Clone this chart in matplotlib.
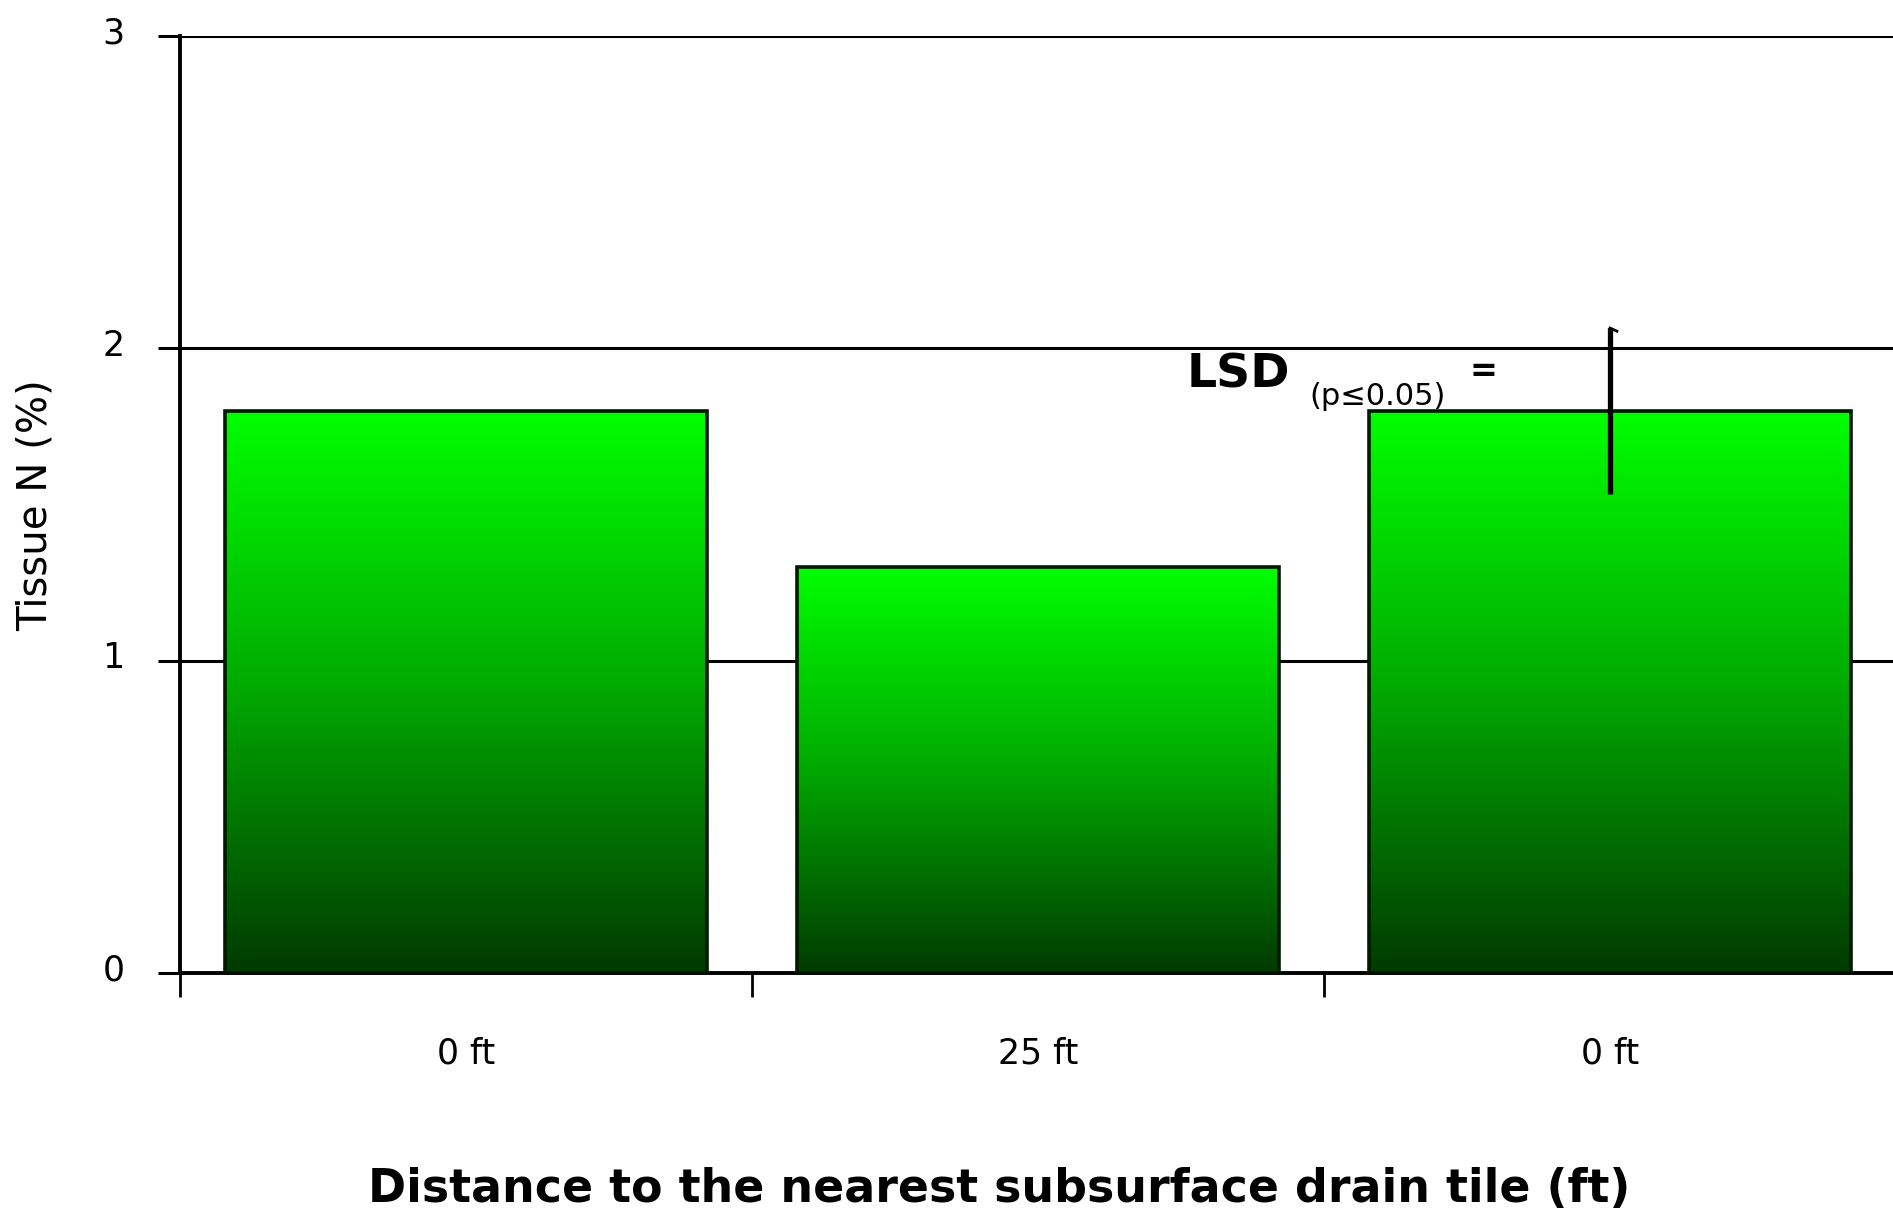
import numpy as np
import matplotlib
matplotlib.use("Agg")
import matplotlib.pyplot as plt
from matplotlib.colors import LinearSegmentedColormap
from matplotlib.transforms import ScaledTranslation

categories = ["0 ft", "25 ft", "0 ft"]
tissue_n = [1.8, 1.3, 1.8]
lsd = 0.53
y_ticks = [0, 1, 2, 3]

fig = plt.figure(figsize=(18.93, 12.25), dpi=100)
ax = fig.add_axes([0.0951, 0.2057, 0.9065, 0.7649])

x = np.arange(len(categories))
bars = ax.bar(x, tissue_n, width=0.844, color="none", edgecolor="#001a00",
              linewidth=2.6, zorder=3)

# vertical gradient inside each bar, dark green at the base to bright green at the top
cmap = LinearSegmentedColormap.from_list("grn", ["#003a00", "#00a800", "#00ff00"])
grad = np.linspace(0, 1, 256).reshape(-1, 1)
for b in bars:
    x0, y0 = b.get_x(), b.get_y()
    w, h = b.get_width(), b.get_height()
    im = ax.imshow(grad, cmap=cmap, origin="lower", aspect="auto",
                   extent=[x0, x0 + w, y0, y0 + h], zorder=2)
    im.set_clip_path(b)

ax.set_xlim(-0.5, 2.5)
ax.set_ylim(0, 3)

for v in y_ticks[1:]:
    ax.axhline(v, color="black", linewidth=2.2, zorder=1)

ax.set_yticks(y_ticks)
ax.set_yticklabels([str(v) for v in y_ticks])
ax.tick_params(axis="y", direction="out", length=16, width=2.2, pad=24,
               labelsize=25)
# labels sit a little above their tick lines
shift = ScaledTranslation(0, 6 / 100, fig.dpi_scale_trans)
for lab in ax.get_yticklabels():
    lab.set_transform(lab.get_transform() + shift)

ax.set_xticks(x)
ax.set_xticklabels(categories)
ax.set_xticks([-0.5, 0.5, 1.5, 2.5], minor=True)
ax.tick_params(axis="x", which="major", length=0, pad=46, labelsize=25)
ax.tick_params(axis="x", which="minor", direction="out", length=17, width=2)

for s in ["top", "right"]:
    ax.spines[s].set_visible(False)
ax.spines["left"].set_linewidth(2.8)
ax.spines["bottom"].set_linewidth(2.8)

# LSD bar
cx = x[2]
ax.plot([cx, cx], [tissue_n[2] - lsd / 2, tissue_n[2] + lsd / 2],
        color="black", linewidth=3.8, zorder=4, solid_capstyle="butt")
ax.plot([cx, cx + 0.012], [tissue_n[2] + lsd / 2, tissue_n[2] + lsd / 2 - 0.01],
        color="black", linewidth=2, zorder=4)
ax.text(1.259, 1.915, "LSD", fontsize=34, fontweight="bold", va="center",
        ha="left", zorder=5)
ax.text(1.475, 1.845, "(p\u22640.05)", fontsize=22, va="center", ha="left",
        zorder=5)
ax.text(1.755, 1.925, "=", fontsize=24, fontweight="bold", va="center",
        ha="left", zorder=5)

fig.text(0.019, 0.588, "Tissue N (%)", rotation=90, fontsize=29,
         va="center", ha="center")
fig.text(0.528, 0.029, "Distance to the nearest subsurface drain tile (ft)",
         fontsize=33, fontweight="bold", va="center", ha="center")

fig.savefig("out.png", dpi=100)
